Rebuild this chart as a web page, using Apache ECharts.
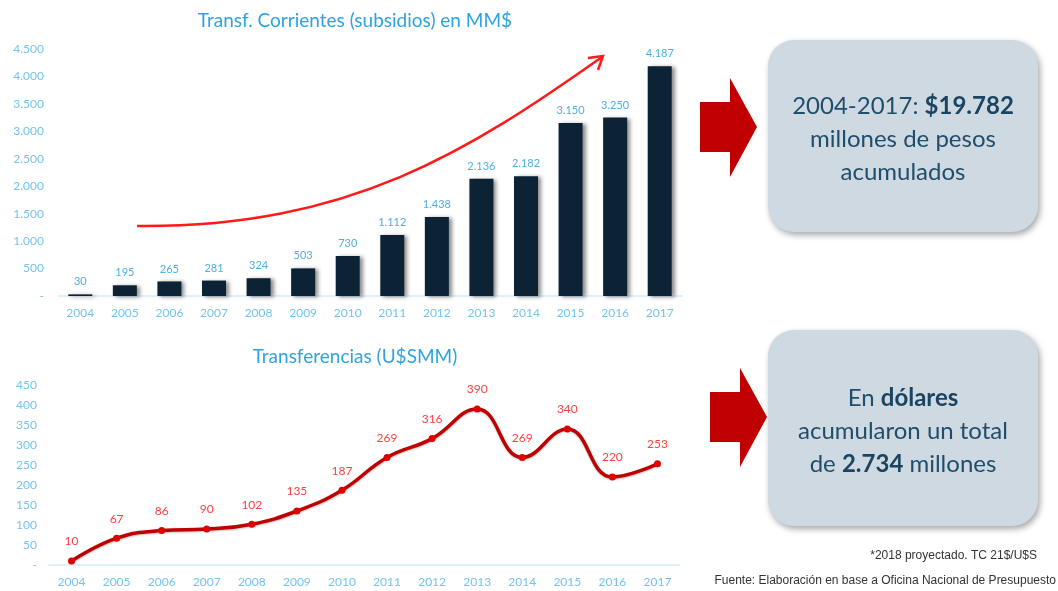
<!DOCTYPE html>
<html>
<head>
<meta charset="utf-8">
<script src="https://cdn.jsdelivr.net/npm/echarts@6/dist/echarts.min.js"></script>
<style>
  html, body { margin: 0; padding: 0; background: #fff; }
  #chart { width: 1058px; height: 591px; }
</style>
</head>
<body>
<div id="chart"></div>
<script>
const years = ['2004', '2005', '2006', '2007', '2008', '2009', '2010', '2011', '2012', '2013', '2014', '2015', '2016', '2017']
const subsidiosMM = [30, 195, 265, 281, 324, 503, 730, 1112, 1438, 2136, 2182, 3150, 3250, 4187]
const transfUSD = [10, 67, 86, 90, 102, 135, 187, 269, 316, 390, 269, 340, 220, 253]

const FONT = 'Lato, "Open Sans", sans-serif'
const BLUE = '#2ea3e3'
const LIGHT = '#74c3ee'
const RED = '#c00000'

// 1.112 style thousands, "-" for zero
const fmtMiles = (v) => {
  if (v === 0) return '-'
  return String(v).replace(/\B(?=(\d{3})+(?!\d))/g, '.')
}

const chart = echarts.init(document.getElementById('chart'))

const arrowShape = (x, y) => ({
  type: 'polygon',
  shape: {
    points: [[x, y + 24], [x + 30, y + 24], [x + 30, y], [x + 57, y + 49], [x + 30, y + 99], [x + 30, y + 74], [x, y + 74]],
  },
  style: { fill: RED },
})

const box = (x, y, w, h) => ({
  type: 'rect',
  shape: { x: x, y: y, width: w, height: h, r: 26 },
  style: { fill: '#cfd9e1', shadowBlur: 6, shadowOffsetX: 2, shadowOffsetY: 3, shadowColor: 'rgba(0,0,0,0.35)' },
})

const boxText = (cx, y, text) => ({
  type: 'text',
  x: cx,
  y: y,
  style: {
    text: text,
    align: 'center',
    verticalAlign: 'middle',
    font: '24px ' + FONT,
    fill: '#1f4d6b',
    lineHeight: 33,
    rich: {
      b: { font: 'bold 24px ' + FONT, fill: '#1a4562' },
      n: { font: '24px ' + FONT, fill: '#1f4d6b' },
    },
  },
})

const noteFont = '12px "Liberation Sans Narrow", "Liberation Sans", sans-serif'

const option = {
  backgroundColor: '#fff',
  textStyle: { fontFamily: FONT },
  animation: false,
  title: [
    {
      text: 'Transf. Corrientes (subsidios) en MM$',
      left: 350, top: 6, textAlign: 'center',
      textStyle: { color: BLUE, fontSize: 19, fontWeight: 'normal', fontFamily: FONT },
    },
    {
      text: 'Transferencias (U$SMM)',
      left: 350, top: 342, textAlign: 'center',
      textStyle: { color: BLUE, fontSize: 19, fontWeight: 'normal', fontFamily: FONT },
    },
  ],
  grid: [
    { left: 58, right: 376, top: 49, bottom: 295 },
    { left: 49, right: 378, top: 385, bottom: 26 },
  ],
  xAxis: [
    {
      type: 'category', gridIndex: 0, data: years,
      axisLine: { lineStyle: { color: '#d4ebf8', width: 1.5 } },
      axisTick: { show: false },
      axisLabel: { color: LIGHT, fontSize: 12, margin: 11 },
    },
    {
      type: 'category', gridIndex: 1, data: years,
      axisLine: { lineStyle: { color: '#d4ebf8', width: 1.5 } },
      axisTick: { show: false },
      axisLabel: { color: LIGHT, fontSize: 12, margin: 11 },
    },
  ],
  yAxis: [
    {
      type: 'value', gridIndex: 0, min: 0, max: 4500, interval: 500,
      splitLine: { show: false },
      axisLabel: { color: LIGHT, fontSize: 12, margin: 14, formatter: fmtMiles },
    },
    {
      type: 'value', gridIndex: 1, min: 0, max: 450, interval: 50,
      splitLine: { show: false },
      axisLabel: { color: LIGHT, fontSize: 12, margin: 12, formatter: (v) => (v === 0 ? '-' : v) },
    },
  ],
  series: [
    {
      type: 'bar', xAxisIndex: 0, yAxisIndex: 0,
      data: subsidiosMM,
      barWidth: 24,
      itemStyle: {
        color: '#0c2235',
        shadowColor: 'rgba(0,0,0,0.45)', shadowBlur: 4, shadowOffsetX: 3, shadowOffsetY: 1,
      },
      label: {
        show: true, position: 'top', distance: 7,
        color: '#4eaee3', fontSize: 11,
        formatter: (p) => fmtMiles(p.value),
      },
    },
    {
      type: 'line', xAxisIndex: 1, yAxisIndex: 1,
      data: transfUSD,
      smooth: 0.45,
      lineStyle: { color: RED, width: 3.5, shadowColor: 'rgba(0,0,0,0.25)', shadowBlur: 2, shadowOffsetY: 1 },
      symbol: 'circle', symbolSize: 7,
      itemStyle: { color: '#e00000' },
      label: { show: true, position: 'top', distance: 10, color: '#ff4040', fontSize: 12 },
    },
  ],
  graphic: [
    // trend arrow over the bars
    {
      type: 'bezierCurve',
      shape: { x1: 137, y1: 226, cpx1: 350, cpy1: 228, cpx2: 470, cpy2: 150, x2: 602, y2: 57 },
      style: { stroke: '#ff1a1a', lineWidth: 2.5, fill: null },
    },
    {
      type: 'polyline',
      shape: { points: [[588, 58], [603, 56], [598, 70]] },
      style: { stroke: '#ff1a1a', lineWidth: 2.5, fill: null },
    },
    arrowShape(700, 78),
    arrowShape(710, 368),
    box(768, 40, 270, 192),
    box(768, 330, 270, 196),
    boxText(903, 139, '{n|2004-2017: }{b|$19.782}\n{n|millones de pesos}\n{n|acumulados}'),
    boxText(903, 431, '{n|En }{b|dólares}\n{n|acumularon un total}\n{n|de }{b|2.734}{n| millones}'),
    {
      type: 'text', x: 1037, y: 556,
      style: { text: '*2018 proyectado. TC 21$/U$S', align: 'right', verticalAlign: 'middle', font: noteFont, fill: '#333' },
    },
    {
      type: 'text', x: 1056, y: 581,
      style: { text: 'Fuente: Elaboración en base a Oficina Nacional de Presupuesto', align: 'right', verticalAlign: 'middle', font: noteFont, fill: '#333' },
    },
  ],
}

chart.setOption(option)
window.addEventListener('resize', () => chart.resize())
</script>
</body>
</html>
